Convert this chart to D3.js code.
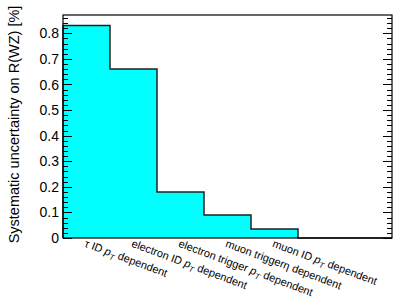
<!DOCTYPE html>
<html lang="en">
<head>
    <meta charset="UTF-8">
    <title>Systematic uncertainty on R(WZ)</title>
    <script src="https://d3js.org/d3.v7.min.js"></script>
    <style>
        body { margin: 0; background: #fff; }
        svg text { font-family: "Liberation Sans", Arial, sans-serif; fill: #000; }
    </style>
</head>
<body>
    <script>
        // bin labels ("p_T" gets drawn as italic p with subscript T)
        const categories = [
            "τ ID p_T dependent",
            "electron ID p_T dependent",
            "electron trigger p_T dependent",
            "muon triggerη dependent",
            "muon ID p_T dependent",
            "",
            ""
        ];
        // uncertainty per bin, in %
        const values = [0.83, 0.66, 0.18, 0.09, 0.035, 0, 0];
        const yTicks = [0, 0.1, 0.2, 0.3, 0.4, 0.5, 0.6, 0.7, 0.8];
        const yTitle = "Systematic uncertainty on R(WZ) [%]";

        const svgWidth = 415, svgHeight = 298;
        const margin = { top: 15, right: 23, bottom: 60, left: 63 };
        const width = svgWidth - margin.left - margin.right;
        const height = svgHeight - margin.top - margin.bottom;

        const svg = d3.select("body").append("svg")
            .attr("width", svgWidth)
            .attr("height", svgHeight);

        const g = svg.append("g")
            .attr("transform", "translate(" + margin.left + "," + margin.top + ")");

        const x = d3.scaleBand()
            .domain(d3.range(values.length))
            .range([0, width])
            .padding(0);

        const y = d3.scaleLinear()
            .domain([0, d3.max(values) * 1.05])
            .range([height, 0]);

        // histogram as filled step area
        const pts = [];
        values.forEach((v, i) => {
            pts.push({ x: x(i), v });
            pts.push({ x: x(i) + x.bandwidth(), v });
        });

        const area = d3.area()
            .x(d => d.x)
            .y0(y(0))
            .y1(d => y(d.v));

        g.append("path")
            .datum(pts)
            .attr("d", area)
            .attr("fill", "#00ffff")
            .attr("stroke", "none");

        const line = d3.line()
            .x(d => d.x)
            .y(d => y(d.v));

        g.append("path")
            .datum([{ x: 0, v: 0 }].concat(pts))
            .attr("d", line)
            .attr("fill", "none")
            .attr("stroke", "#222")
            .attr("stroke-width", 1.5);

        // minor ticks every 0.02
        const minor = d3.range(0, y.domain()[1], 0.02).filter(t => Math.abs(t * 10 - Math.round(t * 10)) > 1e-6);

        const tickG = g.append("g").attr("stroke", "#000").attr("stroke-width", 1);
        [[0, 1], [width, -1]].forEach(([x0, dir]) => {
            tickG.selectAll(null)
                .data(yTicks)
                .enter().append("line")
                .attr("x1", x0).attr("x2", x0 + dir * 9)
                .attr("y1", d => Math.round(y(d)) + 0.5).attr("y2", d => Math.round(y(d)) + 0.5);
            tickG.selectAll(null)
                .data(minor)
                .enter().append("line")
                .attr("x1", x0).attr("x2", x0 + dir * 5)
                .attr("y1", d => Math.round(y(d)) + 0.5).attr("y2", d => Math.round(y(d)) + 0.5);
        });

        // frame
        g.append("rect")
            .attr("x", 0).attr("y", 0)
            .attr("width", width).attr("height", height)
            .attr("fill", "none")
            .attr("stroke", "#000")
            .attr("stroke-width", 1.2);

        // y tick labels
        g.selectAll(".ylab")
            .data(yTicks)
            .enter().append("text")
            .attr("class", "ylab")
            .attr("x", -4)
            .attr("y", d => y(d))
            .attr("dy", "0.36em")
            .attr("text-anchor", "end")
            .style("font-size", "14px")
            .text(d => d3.format("~g")(d));

        // y title
        svg.append("text")
            .attr("transform", "translate(19," + (margin.top + height / 2 - 2) + ") rotate(-90)")
            .attr("text-anchor", "middle")
            .style("font-size", "14.5px")
            .text(yTitle);

        // rotated bin labels
        g.selectAll(".xlab")
            .data(categories.map((c, i) => ({ c, i })).filter(d => d.c !== ""))
            .enter().append("text")
            .attr("class", "xlab")
            .attr("transform", d => "translate(" + (x(d.i) + x.bandwidth() / 2) + "," + (height + 1) + ") rotate(20.5)")
            .attr("dy", "0.72em")
            .style("font-size", "11px")
            .each(function(d) {
                const t = d3.select(this);
                const parts = d.c.split("p_T");
                t.append("tspan").text(parts[0]);
                if (parts.length > 1) {
                    t.append("tspan").style("font-style", "italic").text("p");
                    t.append("tspan").attr("dy", "3").style("font-size", "8px").style("font-style", "italic").text("T");
                    t.append("tspan").attr("dy", "-3").text(parts[1]);
                }
            });
    </script>
</body>
</html>
